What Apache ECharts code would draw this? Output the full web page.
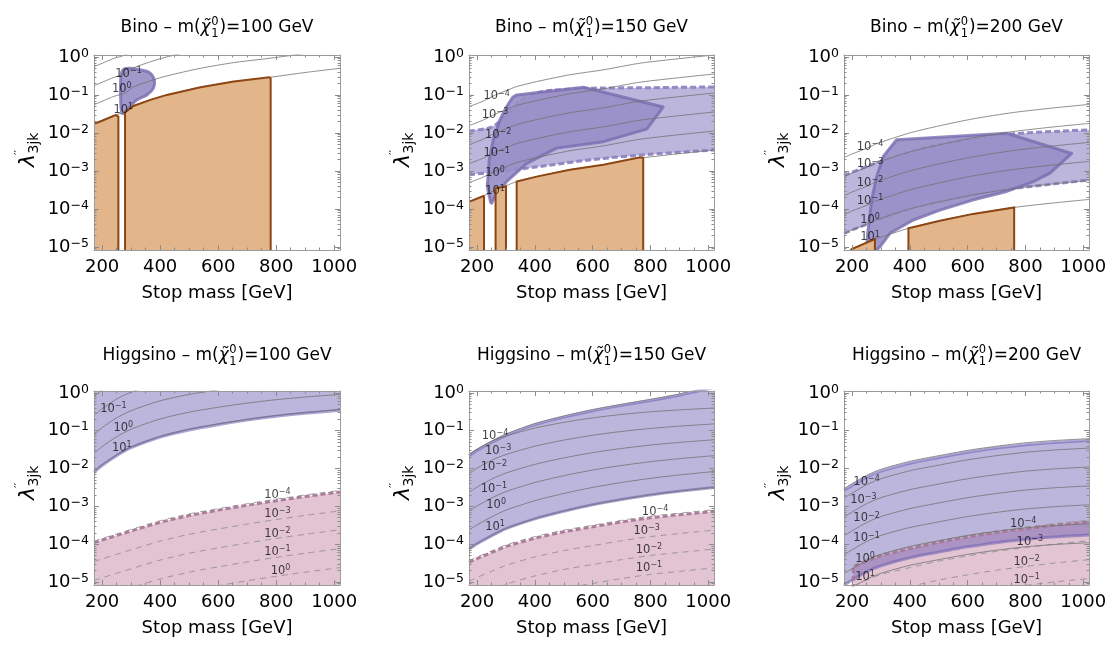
<!DOCTYPE html>
<html><head><meta charset="utf-8"><title>Stop limits</title>
<script src="https://cdn.jsdelivr.net/npm/echarts@6.0.0/dist/echarts.min.js"></script>
<style>html,body{margin:0;padding:0;background:#fff}#chart{width:1110px;height:648px}</style>
</head><body><div id="chart"></div>
<script>
// ---------------- axis ticks ----------------
const massLabelTicks = [200, 400, 600, 800, 1000];
const massMinorTicks = [250, 300, 350, 450, 500, 550, 650, 700, 750, 850, 900, 950];
const decadeTicks = [-5, -4, -3, -2, -1, 0];           // log10(lambda'') ticks
const panelTitles = [
  ['Bino', '100'], ['Bino', '150'], ['Bino', '200'],
  ['Higgsino', '100'], ['Higgsino', '150'], ['Higgsino', '200']
];
// all curves: [stop mass GeV, log10(lambda''_3jk)]

// ---------- Bino 100 ----------
const b100Orange1 = [[172,-1.76],[200,-1.68],[240,-1.55],[247,-1.53],[256,-1.57],[256,-5.4],[172,-5.4]];
const b100Orange2 = [[279,-5.4],[279,-1.46],[308,-1.29],[366,-1.13],[423,-1.00],[539,-0.80],[654,-0.65],[776,-0.535],[781,-0.56],[781,-5.4]];
const b100Blob = [[268,-1.48],[264,-1.13],[264,-0.61],[270,-0.36],[291,-0.30],[331,-0.34],[363,-0.41],[380,-0.61],[377,-0.82],[354,-1.00],[320,-1.13],[291,-1.35],[276,-1.48]];
const b100Contours = [
  [[172,-1.76],[240,-1.54],[279,-1.45],[308,-1.29],[366,-1.13],[423,-1.00],[539,-0.80],[654,-0.65],[779,-0.535],[900,-0.41],[1020,-0.30]],
  [[172,-1.26],[240,-1.04],[279,-0.95],[308,-0.79],[366,-0.63],[423,-0.50],[539,-0.30],[654,-0.15],[779,-0.035],[900,0.09]],
  [[172,-0.76],[240,-0.54],[279,-0.45],[308,-0.29],[366,-0.13],[423,0.00],[539,0.20]],
  [[172,-0.26],[240,-0.04],[279,0.05],[308,0.21]]
];
const b100Labels = [[291,-0.45,-1],[268,-0.85,0],[273,-1.39,1]];

// ---------- Bino 150 ----------
const b150Orange1 = [[172,-5.4],[172,-3.81],[222,-3.66],[224,-3.68],[224,-5.4]];
const b150Orange2 = [[264,-5.4],[264,-3.46],[300,-3.41],[300,-5.4]];
const b150Orange3 = [[337,-5.4],[337,-3.28],[406,-3.15],[521,-2.97],[637,-2.84],[765,-2.64],[775,-2.66],[775,-5.4]];
const b150BandTop = [[172,-1.95],[250,-1.85],[300,-1.55],[350,-1.15],[420,-0.92],[568,-0.83],[800,-0.81],[1020,-0.79]];
const b150BandBottom = [[172,-3.10],[300,-3.00],[450,-2.85],[600,-2.70],[800,-2.56],[1020,-2.45]];
const b150Dark = [[247,-3.83],[235,-3.41],[242,-2.71],[256,-2.18],[279,-1.66],[302,-1.31],[323,-1.06],[337,-1.00],[568,-0.80],[844,-1.32],[787,-1.90],[637,-2.23],[475,-2.40],[372,-2.80],[302,-3.28],[262,-3.68],[250,-3.85]];
const b150Contours = [
  [[172,-3.81],[222,-3.66],[264,-3.50],[300,-3.39],[337,-3.28],[406,-3.15],[521,-2.97],[637,-2.84],[769,-2.66],[1020,-2.45]],
  [[172,-3.31],[222,-3.16],[264,-3.00],[300,-2.89],[337,-2.78],[406,-2.65],[521,-2.47],[637,-2.34],[769,-2.16],[1020,-1.95]],
  [[172,-2.81],[222,-2.66],[264,-2.50],[300,-2.39],[337,-2.28],[406,-2.15],[521,-1.97],[637,-1.84],[769,-1.66],[1020,-1.45]],
  [[172,-2.31],[222,-2.16],[264,-2.00],[300,-1.89],[337,-1.78],[406,-1.65],[521,-1.47],[637,-1.34],[769,-1.16],[1020,-0.95]],
  [[172,-1.81],[222,-1.66],[264,-1.50],[300,-1.39],[337,-1.28],[406,-1.15],[521,-0.97],[637,-0.84],[769,-0.66],[1020,-0.45]],
  [[172,-1.31],[222,-1.16],[264,-1.00],[300,-0.89],[337,-0.78],[406,-0.65],[521,-0.47],[637,-0.34],[769,-0.16],[1020,0.05]]
];
const b150Labels = [[268,-1.04,-4],[262,-1.53,-3],[273,-2.05,-2],[268,-2.54,-1],[262,-3.06,0],[262,-3.54,1]];

// ---------- Bino 200 ----------
const b200Orange1 = [[198,-5.4],[198,-5.06],[279,-4.79],[279,-5.4]];
const b200Orange2 = [[395,-5.4],[395,-4.51],[504,-4.31],[619,-4.13],[761,-3.96],[761,-5.4]];
const b200BandTop = [[172,-3.12],[262,-2.85],[395,-2.50],[504,-2.30],[619,-2.15],[761,-2.02],[900,-1.96],[1020,-1.92]];
const b200BandBottom = [[172,-4.64],[262,-4.37],[395,-4.00],[504,-3.80],[619,-3.63],[761,-3.46],[900,-3.34],[1020,-3.24]];
const b200Dark = [[250,-5.12],[254,-4.64],[268,-3.76],[285,-3.15],[308,-2.62],[354,-2.18],[735,-2.01],[960,-2.54],[885,-3.06],[827,-3.28],[735,-3.54],[620,-3.76],[504,-4.03],[412,-4.29],[331,-4.64],[297,-4.99],[279,-5.12]];
const b200Contours = [
  [[172,-5.15],[198,-5.06],[262,-4.87],[279,-4.80],[395,-4.51],[504,-4.31],[619,-4.13],[761,-3.96],[900,-3.84],[1020,-3.75]],
  [[172,-4.65],[198,-4.56],[262,-4.37],[279,-4.30],[395,-4.01],[504,-3.81],[619,-3.63],[761,-3.46],[900,-3.34],[1020,-3.25]],
  [[172,-4.15],[198,-4.06],[262,-3.87],[279,-3.80],[395,-3.51],[504,-3.31],[619,-3.13],[761,-2.96],[900,-2.84],[1020,-2.75]],
  [[172,-3.65],[198,-3.56],[262,-3.37],[279,-3.30],[395,-3.01],[504,-2.81],[619,-2.63],[761,-2.46],[900,-2.34],[1020,-2.25]],
  [[172,-3.15],[198,-3.06],[262,-2.87],[279,-2.80],[395,-2.51],[504,-2.31],[619,-2.13],[761,-1.96],[900,-1.84],[1020,-1.75]],
  [[172,-2.65],[198,-2.56],[262,-2.37],[279,-2.30],[395,-2.01],[504,-1.81],[619,-1.63],[761,-1.46],[900,-1.34],[1020,-1.25]]
];
const b200Labels = [[262,-2.36,-4],[262,-2.83,-3],[262,-3.32,-2],[262,-3.80,-1],[262,-4.29,0],[262,-4.75,1]];

// ---------- Higgsino 100 ----------
const h100BandBottom = [[172,-2.10],[200,-1.92],[250,-1.66],[300,-1.45],[400,-1.17],[500,-0.98],[600,-0.84],[700,-0.72],[800,-0.62],[900,-0.54],[1020,-0.46]];
const h100BandTop = [[172,0.3],[1020,0.3]];
const h100Contours = [
  [[172,-2.08],[200,-1.90],[250,-1.64],[300,-1.43],[400,-1.15],[500,-0.96],[600,-0.82],[700,-0.70],[800,-0.60],[900,-0.52],[1020,-0.44]],
  [[172,-1.60],[200,-1.42],[250,-1.16],[300,-0.96],[400,-0.69],[500,-0.51],[600,-0.38],[700,-0.27],[800,-0.18],[900,-0.11],[1020,-0.04]],
  [[172,-1.10],[200,-0.92],[250,-0.66],[300,-0.47],[400,-0.21],[500,-0.04],[600,0.08]],
  [[172,-0.60],[200,-0.42],[250,-0.16],[300,0.02],[400,0.27]],
  [[172,-0.10],[200,0.08],[250,0.34]]
];
const h100Labels = [[239,-0.43,-1],[273,-0.93,0],[268,-1.46,1]];
const h100PinkTop = [[172,-3.96],[200,-3.89],[250,-3.77],[300,-3.65],[400,-3.42],[500,-3.24],[600,-3.10],[700,-2.97],[800,-2.85],[900,-2.74],[1020,-2.62]];
const h100PinkContours = [
  [[172,-3.92],[200,-3.85],[250,-3.73],[300,-3.61],[400,-3.38],[500,-3.20],[600,-3.06],[700,-2.93],[800,-2.81],[900,-2.70],[1020,-2.58]],
  [[172,-4.46],[200,-4.39],[250,-4.27],[300,-4.15],[400,-3.92],[500,-3.74],[600,-3.60],[700,-3.47],[800,-3.35],[900,-3.24],[1020,-3.12]],
  [[172,-4.96],[200,-4.89],[250,-4.77],[300,-4.65],[400,-4.42],[500,-4.24],[600,-4.10],[700,-3.97],[800,-3.85],[900,-3.74],[1020,-3.62]],
  [[172,-5.46],[200,-5.39],[250,-5.27],[300,-5.15],[400,-4.92],[500,-4.74],[600,-4.60],[700,-4.47],[800,-4.35],[900,-4.24],[1020,-4.12]],
  [[300,-5.65],[400,-5.42],[500,-5.24],[600,-5.10],[700,-4.97],[800,-4.85],[900,-4.74],[1020,-4.62]],
  [[600,-5.60],[700,-5.47],[800,-5.35],[900,-5.24],[1020,-5.12]]
];
const h100PinkLabels = [[804,-2.71,-4],[804,-3.19,-3],[804,-3.72,-2],[804,-4.20,-1],[815,-4.70,0]];

// ---------- Higgsino 150 ----------
const h150BandTop = [[172,-1.66],[200,-1.52],[250,-1.31],[300,-1.12],[400,-0.84],[500,-0.64],[600,-0.47],[700,-0.33],[800,-0.20],[900,-0.06],[940,0.01],[1020,0.14]];
const h150BandBottom = [[172,-4.13],[200,-3.99],[250,-3.78],[300,-3.59],[400,-3.33],[500,-3.13],[600,-2.96],[700,-2.82],[800,-2.70],[900,-2.60],[1020,-2.50]];
const h150TopLine = [[172,-1.63],[200,-1.49],[250,-1.28],[300,-1.09],[400,-0.81],[500,-0.61],[600,-0.44],[700,-0.30],[800,-0.17],[900,-0.03],[940,0.05]];
const h150Contours = [
  [[172,-4.13],[200,-3.99],[250,-3.78],[300,-3.59],[400,-3.33],[500,-3.13],[600,-2.96],[700,-2.82],[800,-2.70],[900,-2.60],[1020,-2.50]],
  [[172,-3.63],[200,-3.49],[250,-3.28],[300,-3.10],[400,-2.85],[500,-2.66],[600,-2.50],[700,-2.37],[800,-2.26],[900,-2.17],[1020,-2.08]],
  [[172,-3.13],[200,-2.99],[250,-2.78],[300,-2.61],[400,-2.37],[500,-2.19],[600,-2.04],[700,-1.92],[800,-1.82],[900,-1.74],[1020,-1.66]],
  [[172,-2.63],[200,-2.49],[250,-2.28],[300,-2.12],[400,-1.89],[500,-1.72],[600,-1.58],[700,-1.47],[800,-1.38],[900,-1.31],[1020,-1.24]],
  [[172,-2.13],[200,-1.99],[250,-1.78],[300,-1.63],[400,-1.41],[500,-1.25],[600,-1.12],[700,-1.02],[800,-0.94],[900,-0.88],[1020,-0.82]],
  [[172,-1.63],[200,-1.49],[250,-1.28],[300,-1.14],[400,-0.93],[500,-0.78],[600,-0.66],[700,-0.57],[800,-0.50],[900,-0.45],[1020,-0.40]]
];
const h150Labels = [[262,-1.13,-4],[273,-1.53,-3],[258,-1.96,-2],[258,-2.54,-1],[266,-2.97,0],[262,-3.54,1]];
const h150PinkTop = [[172,-4.48],[200,-4.38],[250,-4.22],[300,-4.06],[400,-3.84],[500,-3.67],[600,-3.54],[700,-3.41],[800,-3.30],[900,-3.22],[1020,-3.13]];
const h150PinkContours = [
  [[172,-4.44],[200,-4.34],[250,-4.18],[300,-4.02],[400,-3.80],[500,-3.63],[600,-3.50],[700,-3.37],[800,-3.26],[900,-3.18],[1020,-3.09]],
  [[172,-4.98],[200,-4.88],[250,-4.72],[300,-4.56],[400,-4.34],[500,-4.17],[600,-4.04],[700,-3.91],[800,-3.80],[900,-3.72],[1020,-3.63]],
  [[172,-5.48],[200,-5.38],[250,-5.22],[300,-5.06],[400,-4.84],[500,-4.67],[600,-4.54],[700,-4.41],[800,-4.30],[900,-4.22],[1020,-4.13]],
  [[300,-5.56],[400,-5.34],[500,-5.17],[600,-5.04],[700,-4.91],[800,-4.80],[900,-4.72],[1020,-4.63]],
  [[500,-5.67],[600,-5.54],[700,-5.41],[800,-5.30],[900,-5.22],[1020,-5.13]]
];
const h150PinkLabels = [[816,-3.15,-4],[787,-3.65,-3],[795,-4.16,-2],[795,-4.64,-1]];

// ---------- Higgsino 200 ----------
const h200BandTop = [[172,-2.58],[200,-2.45],[250,-2.23],[300,-2.07],[400,-1.86],[500,-1.71],[600,-1.57],[700,-1.46],[800,-1.37],[900,-1.31],[1020,-1.26]];
const h200BandBottom = [[172,-5.08],[200,-4.95],[250,-4.73],[300,-4.57],[400,-4.36],[500,-4.21],[600,-4.07],[700,-3.96],[800,-3.87],[900,-3.81],[1020,-3.76]];
const h200Contours = [
  [[172,-2.53],[200,-2.40],[250,-2.18],[300,-2.02],[400,-1.81],[500,-1.66],[600,-1.52],[700,-1.41],[800,-1.32],[900,-1.26],[1020,-1.21]],
  [[172,-2.78],[200,-2.65],[250,-2.43],[300,-2.27],[400,-2.06],[500,-1.91],[600,-1.77],[700,-1.66],[800,-1.57],[900,-1.51],[1020,-1.46]],
  [[172,-3.28],[200,-3.15],[250,-2.93],[300,-2.77],[400,-2.56],[500,-2.41],[600,-2.27],[700,-2.16],[800,-2.07],[900,-2.01],[1020,-1.96]],
  [[172,-3.78],[200,-3.65],[250,-3.43],[300,-3.27],[400,-3.06],[500,-2.91],[600,-2.77],[700,-2.66],[800,-2.57],[900,-2.51],[1020,-2.46]],
  [[172,-4.28],[200,-4.15],[250,-3.93],[300,-3.77],[400,-3.56],[500,-3.41],[600,-3.27],[700,-3.16],[800,-3.07],[900,-3.01],[1020,-2.96]],
  [[172,-4.78],[200,-4.65],[250,-4.43],[300,-4.27],[400,-4.06],[500,-3.91],[600,-3.77],[700,-3.66],[800,-3.57],[900,-3.51],[1020,-3.46]],
  [[172,-5.28],[200,-5.15],[250,-4.93],[300,-4.77],[400,-4.56],[500,-4.41],[600,-4.27],[700,-4.16],[800,-4.07],[900,-4.01],[1020,-3.96]]
];
const h200Labels = [[250,-2.36,-4],[239,-2.84,-3],[250,-3.32,-2],[250,-3.85,-1],[245,-4.38,0],[245,-4.86,1]];
const h200PinkTop = [[204,-5.4],[204,-4.60],[250,-4.45],[300,-4.30],[400,-4.12],[500,-3.95],[600,-3.81],[700,-3.69],[800,-3.59],[900,-3.50],[1020,-3.41]];
const h200PinkContours = [
  [[204,-4.56],[250,-4.41],[300,-4.26],[400,-4.08],[500,-3.91],[600,-3.77],[700,-3.65],[800,-3.55],[900,-3.46],[1020,-3.37]],
  [[204,-5.10],[250,-4.95],[300,-4.80],[400,-4.62],[500,-4.45],[600,-4.31],[700,-4.19],[800,-4.09],[900,-4.00],[1020,-3.91]],
  [[250,-5.45],[300,-5.30],[400,-5.12],[500,-4.95],[600,-4.81],[700,-4.69],[800,-4.59],[900,-4.50],[1020,-4.41]],
  [[500,-5.45],[600,-5.31],[700,-5.19],[800,-5.09],[900,-5.00],[1020,-4.91]]
];
const h200PinkLabels = [[792,-3.47,-4],[815,-3.94,-3],[804,-4.46,-2],[804,-4.95,-1]];

// ---------------- layout & style ----------------
const X_MIN = 172, X_MAX = 1020, Y_MIN = -5.08, Y_MAX = 0.05;
const gridRects = [[94,55,246,195],[469,55,245,195],[844,55,245,195],[94,391,246,194],[469,391,245,194],[844,391,245,194]];
const FONT = "'DejaVu Sans', 'Liberation Sans', sans-serif";
const C = {
  frame: '#9c9c9c', tick: '#8c8c8c',
  contour: '#727272', contourDash: '#8a8a8a',
  band: 'rgba(100,85,175,0.43)', bandEdge: 'rgba(108,92,178,0.55)', bandDash: 'rgba(140,126,192,0.9)',
  dark: 'rgba(152,143,199,0.92)', darkEdge: 'rgba(122,108,175,0.8)',
  orange: '#E2B68A', orangeEdge: '#8C4614',
  pink: 'rgba(160,60,110,0.30)', pinkEdge: 'rgba(168,120,150,0.95)'
};
const MINUS = '\u2212';
const supText = e => (e < 0 ? MINUS + (-e) : String(e));

const minorDecades = [];
for (let n = -6; n <= 0; n++) for (let k = 2; k <= 9; k++) {
  const v = n + Math.log10(k);
  if (v > Y_MIN && v < Y_MAX) minorDecades.push(v);
}

const xAxes = [], yAxes = [], grids = [], series = [], graphics = [];

gridRects.forEach((r, i) => {
  grids.push({left: r[0], top: r[1], width: r[2], height: r[3], show: false, containLabel: false});
  const xb = {type: 'value', gridIndex: i, min: X_MIN, max: X_MAX, splitLine: {show: false}, z: 10, silent: true};
  const yb = {type: 'value', gridIndex: i, min: Y_MIN, max: Y_MAX, splitLine: {show: false}, z: 10, silent: true};
  const frameLine = {show: true, onZero: false, lineStyle: {color: C.frame, width: 1}};
  const noLine = {show: false, onZero: false};
  xAxes.push(Object.assign({}, xb, {position: 'bottom', axisLine: frameLine,
    axisTick: {show: true, inside: true, length: 5, customValues: massLabelTicks, lineStyle: {color: C.tick}},
    axisLabel: {show: true, customValues: massLabelTicks, color: '#000', fontSize: 18, fontFamily: FONT, margin: 8,
      formatter: v => String(Math.round(v))},
    name: 'Stop mass [GeV]', nameLocation: 'middle', nameGap: 34,
    nameTextStyle: {color: '#000', fontSize: 18, fontFamily: FONT}}));
  xAxes.push(Object.assign({}, xb, {position: 'bottom', axisLine: noLine,
    axisTick: {show: true, inside: true, length: 2.5, customValues: massMinorTicks, lineStyle: {color: C.tick}},
    axisLabel: {show: false}}));
  xAxes.push(Object.assign({}, xb, {position: 'top', axisLine: frameLine,
    axisTick: {show: true, inside: true, length: 5, customValues: massLabelTicks, lineStyle: {color: C.tick}},
    axisLabel: {show: false}}));
  xAxes.push(Object.assign({}, xb, {position: 'top', axisLine: noLine,
    axisTick: {show: true, inside: true, length: 2.5, customValues: massMinorTicks, lineStyle: {color: C.tick}},
    axisLabel: {show: false}}));
  yAxes.push(Object.assign({}, yb, {position: 'left', axisLine: frameLine,
    axisTick: {show: true, inside: true, length: 5, customValues: decadeTicks, lineStyle: {color: C.tick}},
    axisLabel: {show: true, customValues: decadeTicks, margin: 5,
      formatter: v => '{b|10}{s|' + supText(Math.round(v)) + '}',
      rich: {b: {fontSize: 18, fontFamily: FONT, color: '#000', lineHeight: 20},
             s: {fontSize: 12.5, fontFamily: FONT, color: '#000', lineHeight: 12, verticalAlign: 'top'}}}}));
  yAxes.push(Object.assign({}, yb, {position: 'left', axisLine: noLine,
    axisTick: {show: true, inside: true, length: 2.5, customValues: minorDecades, lineStyle: {color: C.tick}},
    axisLabel: {show: false}}));
  yAxes.push(Object.assign({}, yb, {position: 'right', axisLine: frameLine,
    axisTick: {show: true, inside: true, length: 5, customValues: decadeTicks, lineStyle: {color: C.tick}},
    axisLabel: {show: false}}));
  yAxes.push(Object.assign({}, yb, {position: 'right', axisLine: noLine,
    axisTick: {show: true, inside: true, length: 2.5, customValues: minorDecades, lineStyle: {color: C.tick}},
    axisLabel: {show: false}}));
});

function addPoly(i, pts, style, z, smooth) {
  series.push({type: 'custom', coordinateSystem: 'cartesian2d', xAxisIndex: 4 * i, yAxisIndex: 4 * i,
    clip: true, silent: true, z: z, data: pts,
    renderItem: (params, api) => params.dataIndex === 0 ? {
      type: 'polygon', shape: {points: pts.map(p => api.coord(p)), smooth: smooth || 0},
      style: Object.assign({}, style)} : null});
}
function addLine(i, pts, ls, z, smooth) {
  series.push({type: 'line', xAxisIndex: 4 * i, yAxisIndex: 4 * i, data: pts, symbol: 'none',
    smooth: smooth === undefined ? 0.25 : smooth, lineStyle: ls, z: z,
    silent: true, clip: true, animation: false});
}
const labelRich = {
  b: {fontSize: 11.5, fontFamily: FONT, color: '#111', lineHeight: 14},
  s: {fontSize: 8, fontFamily: FONT, color: '#111', lineHeight: 8, verticalAlign: 'top'}
};
function addLabels(i, items) {
  series.push({type: 'scatter', xAxisIndex: 4 * i, yAxisIndex: 4 * i, symbolSize: 1,
    itemStyle: {color: 'rgba(0,0,0,0)'}, silent: true, z: 30, data: items,
    label: {show: true, position: 'inside', formatter: p => '{b|10}{s|' + supText(p.value[2]) + '}', rich: labelRich}});
}
const solid = {color: C.contour, width: 0.8};
const dashed = {color: C.contourDash, width: 0.8, type: [6, 5]};
const orangeStyle = {fill: C.orange, stroke: C.orangeEdge, lineWidth: 2};
const darkStyle = {fill: C.dark, stroke: C.darkEdge, lineWidth: 3, lineJoin: 'round'};
const bandDashStyle = {color: C.bandDash, width: 3, type: [6, 3]};
const bandEdgeStyle = {color: C.bandEdge, width: 3};
const pinkEdgeStyle = {color: C.pinkEdge, width: 3, type: [5, 3]};
const bandPoly = (top, bottom) => top.concat(bottom.slice().reverse());

// Bino 100 (grid 0)
addPoly(0, b100Blob, darkStyle, 4, 0.35);
b100Contours.forEach(c => addLine(0, c, solid, 5));
[b100Orange1, b100Orange2].forEach(p => addPoly(0, p, orangeStyle, 6));
addLabels(0, b100Labels);
// Bino 150 (grid 1)
addPoly(1, bandPoly(b150BandTop, b150BandBottom), {fill: C.band}, 2);
addLine(1, b150BandTop, bandDashStyle, 3); addLine(1, b150BandBottom, bandDashStyle, 3);
addPoly(1, b150Dark, darkStyle, 4);
b150Contours.forEach(c => addLine(1, c, solid, 5));
[b150Orange1, b150Orange2, b150Orange3].forEach(p => addPoly(1, p, orangeStyle, 6));
addLabels(1, b150Labels);
// Bino 200 (grid 2)
addPoly(2, bandPoly(b200BandTop, b200BandBottom), {fill: C.band}, 2);
addLine(2, b200BandTop, bandDashStyle, 3); addLine(2, b200BandBottom, bandDashStyle, 3);
addPoly(2, b200Dark, darkStyle, 4);
b200Contours.forEach(c => addLine(2, c, solid, 5));
[b200Orange1, b200Orange2].forEach(p => addPoly(2, p, orangeStyle, 6));
addLabels(2, b200Labels);
// Higgsino panels
function higgsino(i, bandTop, bandBottom, contours, labels, pinkTop, pinkContours, pinkLabels, edges) {
  const last = pinkTop[pinkTop.length - 1][0], first = pinkTop[0][0];
  addPoly(i, pinkTop.concat([[last, -5.4], [first, -5.4]]), {fill: C.pink}, 1);
  addPoly(i, bandPoly(bandTop, bandBottom), {fill: C.band}, 2);
  edges.forEach(e => addLine(i, e, bandEdgeStyle, 3));
  pinkContours.forEach(c => addLine(i, c, dashed, 5));
  addLine(i, pinkTop, pinkEdgeStyle, 4, false);
  contours.forEach(c => addLine(i, c, solid, 5));
  addLabels(i, labels); addLabels(i, pinkLabels);
}
higgsino(3, h100BandTop, h100BandBottom, h100Contours, h100Labels, h100PinkTop, h100PinkContours, h100PinkLabels, [h100BandBottom]);
higgsino(4, h150BandTop, h150BandBottom, h150Contours.concat([h150TopLine]), h150Labels, h150PinkTop, h150PinkContours, h150PinkLabels, [h150BandTop, h150BandBottom]);
higgsino(5, h200BandTop, h200BandBottom, h200Contours, h200Labels, h200PinkTop, h200PinkContours, h200PinkLabels, [h200BandTop, h200BandBottom]);

// ---------------- titles & y-axis names (real text) ----------------
const mctx = document.createElement('canvas').getContext('2d');
const tw = (t, f) => { mctx.font = f; return mctx.measureText(t).width; };
const txt = (text, x, y, font, extra) => Object.assign({type: 'text', x: x, y: y, silent: true,
  style: {text: text, font: font, fill: '#000', align: 'left', verticalAlign: 'middle', textAlign: 'left', textVerticalAlign: 'middle'}}, extra || {});
gridRects.forEach((r, i) => {
  const cx = r[0] + r[2] / 2, cy = i < 3 ? 28 : 356;
  const F = '17px ' + FONT, FI = 'italic 17px ' + FONT, FS = '11.5px ' + FONT;
  const pre = panelTitles[i][0] + ' \u2013 m(', chi = '\u03C7\u0303', suf = ')=' + panelTitles[i][1] + ' GeV';
  const w1 = tw(pre, F), w2 = tw(chi, FI), w3 = tw('0', FS), w4 = tw(suf, F);
  let x = cx - (w1 + w2 + w3 + 1.5 + w4) / 2;
  graphics.push(txt(pre, x, cy, F)); x += w1;
  graphics.push(txt(chi, x, cy, FI)); x += w2 + 0.5;
  graphics.push(txt('0', x, cy - 6, FS)); graphics.push(txt('1', x, cy + 6, FS)); x += w3 + 1;
  graphics.push(txt(suf, x, cy, F));
  // y axis name  lambda''_{3jk}, rotated
  const FL = 'italic 22px ' + FONT, wl = tw('\u03BB', FL);
  graphics.push({type: 'group', x: r[0] - 66, y: r[1] + (i < 3 ? 112 : 109), rotation: Math.PI / 2, silent: true,
    children: [
      txt('\u03BB', 0, 0, FL),
      txt('\u2032\u2032', wl - 1, -9, '11px ' + FONT),
      txt('3jk', wl + 0.5, 6, '14px ' + FONT)
    ]});
});

const chart = echarts.init(document.getElementById('chart'), null, {renderer: 'canvas'});
chart.setOption({
  animation: false, backgroundColor: '#fff',
  grid: grids, xAxis: xAxes, yAxis: yAxes, series: series, graphic: {elements: graphics}
});
</script></body></html>
